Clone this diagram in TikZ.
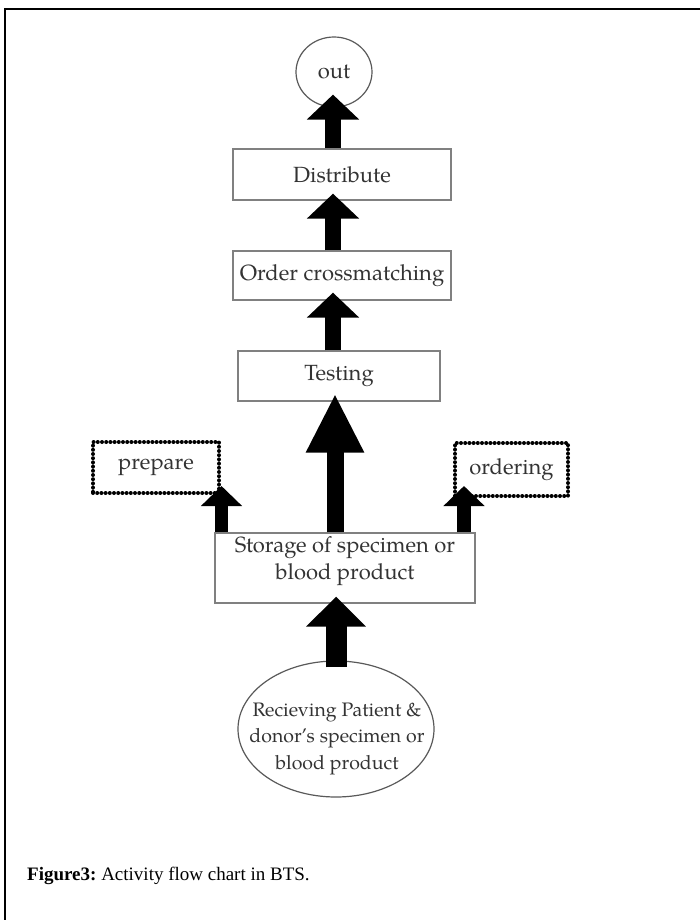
\documentclass[tikz,border=0pt]{standalone}
\usepackage{fontspec}
\setmainfont{Liberation Serif}
\newfontfamily\diafont{TeX Gyre Pagella}
\usetikzlibrary{arrows.meta,shapes.geometric,calc}

\begin{document}
\begin{tikzpicture}[x=1pt,y=-1pt,
  diatext/.style={font=\diafont\fontsize{22}{27}\selectfont, text=black!80, align=center},
  box/.style={rectangle, draw=black!50, line width=1.3pt, inner sep=0pt, diatext},
  dotbox/.style={rectangle, draw=black, line width=4pt, dash pattern=on 0pt off 4.2pt,
    line cap=round, inner sep=0pt, diatext},
  oval/.style={ellipse, draw=black!65, line width=1.2pt, inner sep=0pt, diatext},
  fatarrow/.style={black, line width=16pt, -{Triangle[width=51pt,length=25pt]}},
  bigarrow/.style={black, line width=17pt, -{Triangle[width=54pt,length=59pt]}},
  sidearrow/.style={black, line width=13.5pt, -{Triangle[width=40pt,length=20pt]}},
  basearrow/.style={black, line width=21pt, -{Triangle[width=58pt,length=30pt]}}
]
\useasboundingbox (0,0) rectangle (700,920);

% frame (left and top edges only)
\draw[line width=1.6pt] (5,920) -- (5,9) -- (700,9);

% process nodes
\node[oval, minimum width=76, minimum height=70] (out) at (334,72) {out};
\node[box, minimum width=218, minimum height=51] (dist) at (342,174.5) {Distribute};
\node[box, minimum width=218, minimum height=49] (order) at (342,275.5) {Order crossmatching};
\node[box, minimum width=202, minimum height=50] (test) at (339,376) {Testing};
\node[box, minimum width=260, minimum height=70] (store) at (345,568) {};
\node[diatext] (storetxt) at (345,561.5) {Storage of specimen or\\blood product};
\node[dotbox, minimum width=126, minimum height=51] (prep) at (156,467.5) {prepare};
\node[dotbox, minimum width=113, minimum height=53] (ordr) at (511.5,469.5) {ordering};
\node[oval, minimum width=196, minimum height=136] (recv) at (336,729) {};
\node[diatext, font=\diafont\fontsize{19.5}{26.5}\selectfont] (recvtxt) at (337,738.5)
  {Recieving Patient \&\\donor’s specimen or\\blood product};

% vertical axes of the arrows
\coordinate (axis) at (333,0);
\coordinate (bigaxis) at (335,0);
\coordinate (ltip) at ($(prep.south east)+(0.5,-9)$);
\coordinate (rtip) at ($(ordr.south west)+(11,-12)$);

% block arrows
\draw[fatarrow] (dist.north -| axis) -- ($(out.south -| axis)+(0,-13)$);
\draw[fatarrow] (order.north -| axis) -- ($(dist.south -| axis)+(0,-7)$);
\draw[fatarrow] (test.north -| axis) -- ($(order.south -| axis)+(0,-8)$);
\draw[bigarrow] (store.north -| bigaxis) -- ($(test.south -| bigaxis)+(0,-8)$);
\draw[sidearrow] (store.north -| ltip) -- (ltip);
\draw[sidearrow] (store.north -| rtip) -- (rtip);
\draw[basearrow] ($(recv.north)+(0,7)$) -- ($(store.south -| recv.north)+(0,-7)$);

% caption
\node[anchor=west, font=\fontsize{19}{23}\selectfont, inner sep=0pt] (caption) at (27,876)
  {\textbf{Figure3:}~Activity flow chart in BTS.};
\end{tikzpicture}
\end{document}
